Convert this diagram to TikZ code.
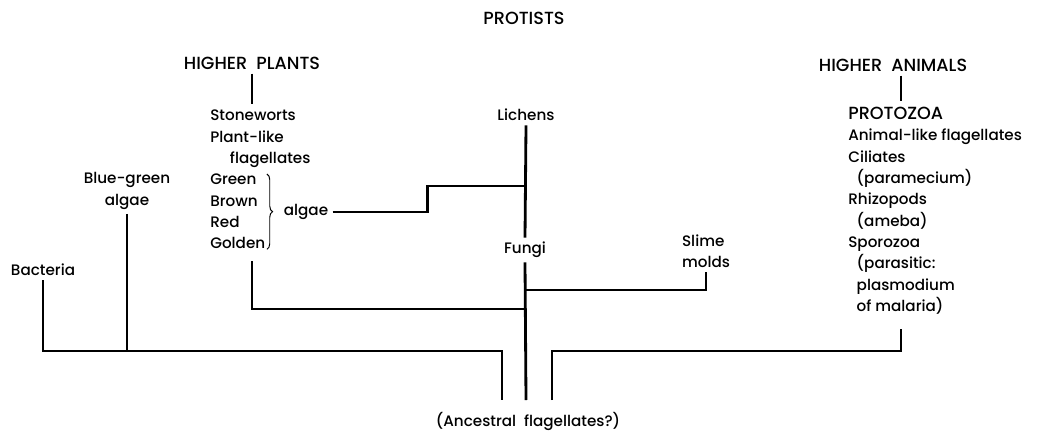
\documentclass[tikz,border=0pt]{standalone}
\usepackage{fontspec}
\setmainfont{Poppins}[UprightFont={* Medium}]
\usetikzlibrary{positioning}
\usetikzlibrary{decorations.pathreplacing}
\tikzstyle{line} = [draw, line width=2pt]
\newcommand{\capsz}{\fontsize{12.5}{15.15}\selectfont}

\begin{document}
\begin{tikzpicture}[x=0.025cm, y=-0.025cm,
		every node/.style={font=\fontsize{10.8}{15.15}\selectfont, inner sep=3pt},
		caps/.style={font=\capsz},
		lst/.style={align=left, anchor=north west, inner sep=0pt},
		brc/.style={decorate, decoration={brace, amplitude=4pt}, line width=0.7pt}]
	\useasboundingbox (0,0) rectangle (1043,433);
	%% Labels
	\node [caps] at (524,18) (P) {PROTISTS};
	\node [caps] at (252,63) (HP) {HIGHER\ \ PLANTS};
	\node [caps] at (893,65) (HA) {HIGHER\ \ ANIMALS};
	\node [lst] at (210,110) (ST) {Stoneworts\\Plant-like\\\hspace*{14pt}flagellates};
	\node [lst] at (210,174) (GR) {Green\\Brown\\Red\\Golden};
	\node at (306,212) (AL) {algae};
	\node at (526,115) (LI) {Lichens};
	\node at (525,250) (FU) {Fungi};
	\node [align=left] at (706,251) (SM) {Slime\\molds};
	\node [align=center] at (127,191) (BG) {Blue-green\\algae};
	\node at (43,270) (BA) {Bacteria};
	\node [lst] at (848,107) (PZ) {{\capsz PROTOZOA}\\Animal-like flagellates\\Ciliates\\
		\hspace*{6pt}(paramecium)\\Rhizopods\\\hspace*{6pt}(ameba)\\Sporozoa\\
		\hspace*{6pt}(parasitic:\\\hspace*{6pt}plasmodium\\\hspace*{6pt}of malaria)};
	\node at (528,421) (AF) {(Ancestral\ \ flagellates?)};
	%% Joints
	\coordinate (A1) at (502,400);
	\coordinate (A2) at (526,400);
	\coordinate (A3) at (552,400);
	\coordinate (J1) at (502,351);
	\coordinate (J2) at (901,351);
	\coordinate (F1) at (526,290);
	\coordinate (F2) at (526,309);
	\coordinate (L1) at (526,186);
	%% Branches
	\draw [brc] ([xshift=1pt]GR.north east) -- ([xshift=1pt]GR.south east);
	\path [line] (HP.south) -- ([yshift=4pt]HP |- ST.north);
	\path [line] (HA.south -| J2) -- ([yshift=4pt]J2 |- PZ.north);
	\path [line] (AL.east) -- ++(95,0) |- (L1);
	\path [line] (LI.south) -- (FU.north);
	\path [line] (FU.south) -- (A2);
	\path [line] (SM.south) |- (F1);
	\path [line] (HP |- GR.south) ++(0,12) |- (F2);
	\path [line] (BA.south) |- (J1) -- (A1);
	\path [line] (BG.south) -- (BG.south |- J1);
	\path [line] (A3) |- (J2) -- ([yshift=-10pt]J2 |- PZ.south);
\end{tikzpicture}
\end{document}
